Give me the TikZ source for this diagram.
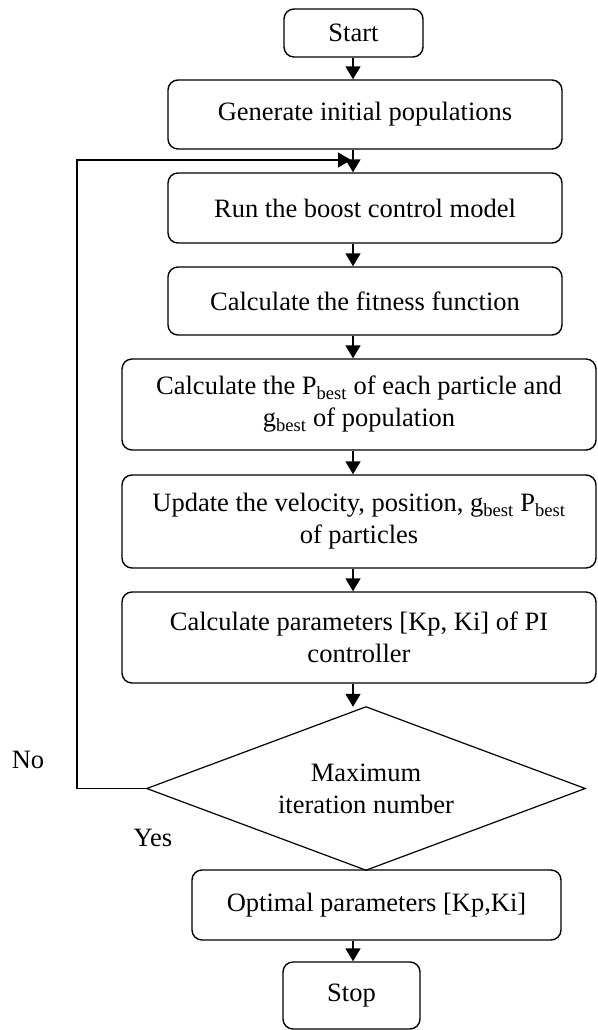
\documentclass[tikz,border=0pt]{standalone}
\usepackage{fontspec}
\setmainfont{Liberation Serif}
\usetikzlibrary{arrows.meta}
\tikzset{
  box/.style={draw, line width=1.4pt, rounded corners=10pt, inner sep=0pt, align=center,
    font=\fontsize{26.5}{32}\selectfont},
  dec/.style={rectangle, inner sep=0pt, align=center,
    font=\fontsize{26.5}{32}\selectfont},
  decline/.style={line width=1.2pt, line join=miter},
  lbl/.style={inner sep=0pt, font=\fontsize{26.5}{32}\selectfont},
  arr/.style={line width=1.6pt, -{Triangle[length=13pt,width=15pt]}},
  loopline/.style={line width=1.4pt, -{Triangle[length=13pt,width=15pt]}}
}
\newcommand{\sbest}{\textsubscript{best}}
\begin{document}
\begin{tikzpicture}[x=1pt,y=-1pt]
\useasboundingbox (0,0) rectangle (597,1030);
\coordinate (ax) at (353,0);
\node[box, minimum width=139pt, minimum height=48pt] (start) at (353.5,33) {Start};
\node[box, minimum width=394pt, minimum height=69pt] (gen) at (365,114.5) {Generate initial populations};
\node[box, minimum width=394pt, minimum height=70pt] (run) at (365,208) {Run the boost control model};
\node[box, minimum width=394pt, minimum height=68pt] (fit) at (365,301) {Calculate the fitness function};
\node[box, minimum width=474pt, minimum height=91pt] (pb) at (359,404.5) {Calculate the P\sbest{} of each particle and\\g\sbest{} of population};
\node[box, minimum width=474pt, minimum height=93pt] (upd) at (359,521.5) {Update the velocity, position, g\sbest{} P\sbest\\of particles};
\node[box, minimum width=474pt, minimum height=91pt] (calc) at (359,637.5) {Calculate parameters [Kp, Ki] of PI\\controller};
\node[dec, minimum width=438pt, minimum height=163pt] (dia) at (366,788.5) {Maximum\\iteration number};
\draw[decline] (dia.north) -- (dia.east) -- (dia.south) -- (dia.west) -- cycle;
\node[box, minimum width=369pt, minimum height=70pt] (opt) at (376.5,905) {Optimal parameters [Kp,Ki]};
\node[box, minimum width=137pt, minimum height=67pt] (stop) at (351.5,995.5) {Stop};
\node[lbl] (no) at (28,760) {No};
\node[lbl] (yes) at (153,838) {Yes};
\coordinate (lx) at (77,160);
\coordinate (jn) at (351,160);
\draw[arr] (start.south -| ax) -- (gen.north -| ax);
\draw[arr] (gen.south -| ax) -- (run.north -| ax);
\draw[arr] (run.south -| ax) -- (fit.north -| ax);
\draw[arr] (fit.south -| ax) -- (pb.north -| ax);
\draw[arr] (pb.south -| ax) -- (upd.north -| ax);
\draw[arr] (upd.south -| ax) -- (calc.north -| ax);
\draw[arr] (calc.south -| ax) -- (dia.north -| ax);
\draw[arr] (opt.south -| ax) -- (stop.north -| ax);
\draw[loopline] (dia.west) -| (lx) -- (jn);
\end{tikzpicture}
\end{document}
